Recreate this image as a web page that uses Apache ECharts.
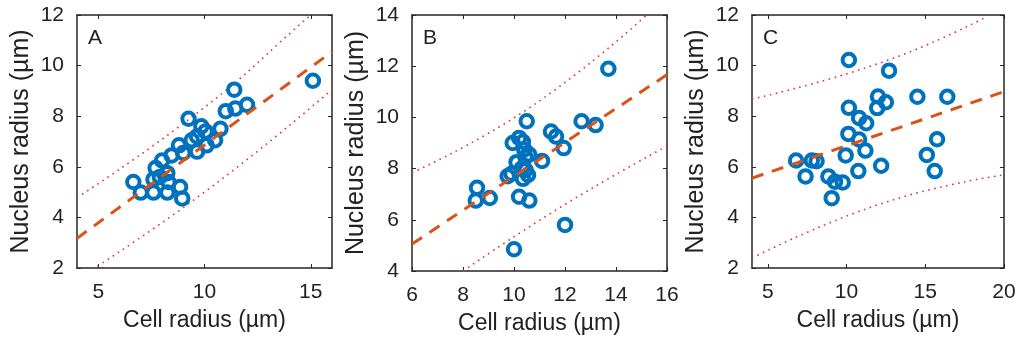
<!DOCTYPE html>
<html>
<head>
<meta charset="utf-8">
<script src="https://cdn.jsdelivr.net/npm/echarts@6/dist/echarts.min.js"></script>
<style>
  html, body { margin: 0; padding: 0; background: #fff; }
  #chart { width: 1020px; height: 341px; }
</style>
</head>
<body>
<div id="chart"></div>
<script>
// panel A
const cellA = [15.1, 11.4, 11.0, 11.45, 12.0, 9.25, 9.85, 10.05, 9.65, 10.75, 10.5, 10.1, 9.65, 8.8, 9.0, 8.45, 9.4, 8.0, 7.7, 8.25, 7.9, 8.3, 7.6, 6.65, 7.0, 7.6, 8.25, 8.85, 8.95];
const nucA  = [9.4, 9.05, 8.2, 8.3, 8.45, 7.9, 7.6, 7.4, 7.2, 7.5, 7.05, 6.85, 6.6, 6.85, 6.55, 6.45, 7.05, 6.25, 5.95, 5.75, 5.6, 5.4, 5.5, 5.4, 4.98, 4.98, 4.98, 5.2, 4.75];
const fitA   = [[4, 3.17], [16, 10.55]];
const upperA = [[4, 4.78], [10, 8.35], [15, 12.0], [16, 12.7]];
const lowerA = [[4, 1.55], [10, 5.0], [16, 9.05]];

// panel B
const cellB = [13.7, 10.5, 12.65, 13.2, 11.45, 11.65, 11.95, 9.95, 10.2, 10.35, 10.4, 10.6, 11.1, 10.45, 10.1, 10.3, 9.75, 9.9, 10.45, 10.35, 10.55, 8.55, 8.5, 9.05, 10.2, 10.6, 12.0, 10.0];
const nucB  = [11.9, 9.85, 9.85, 9.7, 9.45, 9.25, 8.8, 9.0, 9.2, 9.05, 8.75, 8.55, 8.3, 8.45, 8.25, 8.0, 7.7, 7.8, 7.95, 7.6, 7.75, 7.25, 6.75, 6.85, 6.9, 6.75, 5.8, 4.85];
const fitB   = [[6, 5.05], [16, 11.67]];
const upperB = [[6, 7.84], [10.6, 10.37], [15.2, 14.0]];
const lowerB = [[8, 4.0], [12, 6.6], [16, 8.88]];

// panel C
const cellC = [10.15, 12.7, 12.0, 12.5, 11.95, 14.5, 16.4, 10.15, 10.8, 11.25, 10.12, 10.8, 15.75, 11.2, 9.95, 15.1, 12.2, 10.75, 15.6, 6.8, 7.8, 8.1, 7.4, 8.85, 9.27, 9.76, 9.06];
const nucC  = [10.22, 9.8, 8.78, 8.55, 8.32, 8.77, 8.77, 8.33, 7.93, 7.72, 7.3, 7.08, 7.09, 6.64, 6.45, 6.47, 6.04, 5.83, 5.83, 6.25, 6.25, 6.22, 5.62, 5.62, 5.41, 5.38, 4.76];
const fitC   = [[4, 5.55], [20, 8.97]];
const upperC = [[4, 8.68], [12.35, 10.15], [18.8, 11.9]];
const lowerC = [[4, 2.39], [12.33, 4.57], [20, 5.68]];

const letters = ['A', 'B', 'C'];
const xRanges = [[4, 16], [6, 16], [4, 20]];
const yRanges = [[2, 12], [4, 14], [2, 12]];
const xTicksA = [5, 10, 15];
const xTicksB = [6, 8, 10, 12, 14, 16];
const xTicksC = [5, 10, 15, 20];
const xTicks = [xTicksA, xTicksB, xTicksC];

const grids = [
    { left: 77, top: 15, width: 255, height: 253 },
    { left: 412, top: 15, width: 255, height: 256 },
    { left: 752, top: 15, width: 252, height: 253 }
];

const FONT = 'Liberation Sans, Arial, sans-serif';
const AXIS_COLOR = '#262626';

const zip = (xs, ys) => xs.map((x, i) => [x, ys[i]]);
const panels = [
    { pts: zip(cellA, nucA), fit: fitA, up: upperA, lo: lowerA },
    { pts: zip(cellB, nucB), fit: fitB, up: upperB, lo: lowerB },
    { pts: zip(cellC, nucC), fit: fitC, up: upperC, lo: lowerC }
];

const xAxis = [];
const yAxis = [];
const series = [];
const graphic = [];

panels.forEach((p, i) => {
    const axisLine = { show: true, lineStyle: { color: AXIS_COLOR, width: 1.5 } };
    const tick = { show: true, inside: true, length: 4, lineStyle: { color: AXIS_COLOR, width: 1 } };
    // bottom
    xAxis.push({
        gridIndex: i, type: 'value', min: xRanges[i][0], max: xRanges[i][1],
        position: 'bottom',
        name: 'Cell radius (µm)', nameLocation: 'middle', nameGap: 41,
        nameTextStyle: { fontFamily: FONT, fontSize: 23, color: '#222' },
        axisLine: axisLine,
        axisTick: Object.assign({}, tick, { customValues: xTicks[i] }),
        axisLabel: { customValues: xTicks[i], margin: 14, fontFamily: FONT, fontSize: 21, color: '#222' },
        splitLine: { show: false }
    });
    // top, ticks only
    xAxis.push({
        gridIndex: i, type: 'value', min: xRanges[i][0], max: xRanges[i][1],
        position: 'top',
        axisLine: axisLine,
        axisTick: Object.assign({}, tick, { customValues: xTicks[i] }),
        axisLabel: { show: false },
        splitLine: { show: false }
    });
    // left
    yAxis.push({
        gridIndex: i, type: 'value', min: yRanges[i][0], max: yRanges[i][1], interval: 2,
        position: 'left',
        name: 'Nucleus radius (µm)', nameLocation: 'middle', nameGap: 43,
        nameTextStyle: { fontFamily: FONT, fontSize: 25, color: '#222' },
        axisLine: axisLine,
        axisTick: tick,
        axisLabel: { margin: 13, fontFamily: FONT, fontSize: 21, color: '#222' },
        splitLine: { show: false }
    });
    // right, ticks only
    yAxis.push({
        gridIndex: i, type: 'value', min: yRanges[i][0], max: yRanges[i][1], interval: 2,
        position: 'right',
        axisLine: axisLine,
        axisTick: tick,
        axisLabel: { show: false },
        splitLine: { show: false }
    });

    const xi = i * 2, yi = i * 2;
    series.push({
        type: 'line', xAxisIndex: xi, yAxisIndex: yi, data: p.up, smooth: true,
        showSymbol: false, silent: true, z: 1,
        lineStyle: { color: '#e3342f', width: 1.6, type: [1.6, 4.5] }
    });
    series.push({
        type: 'line', xAxisIndex: xi, yAxisIndex: yi, data: p.lo, smooth: true,
        showSymbol: false, silent: true, z: 1,
        lineStyle: { color: '#e3342f', width: 1.6, type: [1.6, 4.5] }
    });
    series.push({
        type: 'scatter', xAxisIndex: xi, yAxisIndex: yi, data: p.pts,
        symbol: 'circle', symbolSize: 12.5, z: 2,
        itemStyle: { color: 'rgba(255,255,255,0)', borderColor: '#0072BD', borderWidth: 4, opacity: 1 }
    });
    series.push({
        type: 'line', xAxisIndex: xi, yAxisIndex: yi, data: p.fit,
        showSymbol: false, silent: true, z: 3,
        lineStyle: { color: '#D95319', width: 3, type: [12, 9] }
    });

    graphic.push({
        type: 'text', left: grids[i].left + 11, top: 28,
        style: { text: letters[i], fontFamily: FONT, fontSize: 21, fill: '#222' }
    });
});

const chart = echarts.init(document.getElementById('chart'), null, { renderer: 'canvas' });
chart.setOption({
    animation: false,
    backgroundColor: '#fff',
    grid: grids,
    xAxis: xAxis,
    yAxis: yAxis,
    series: series,
    graphic: graphic
});
</script>
</body>
</html>
